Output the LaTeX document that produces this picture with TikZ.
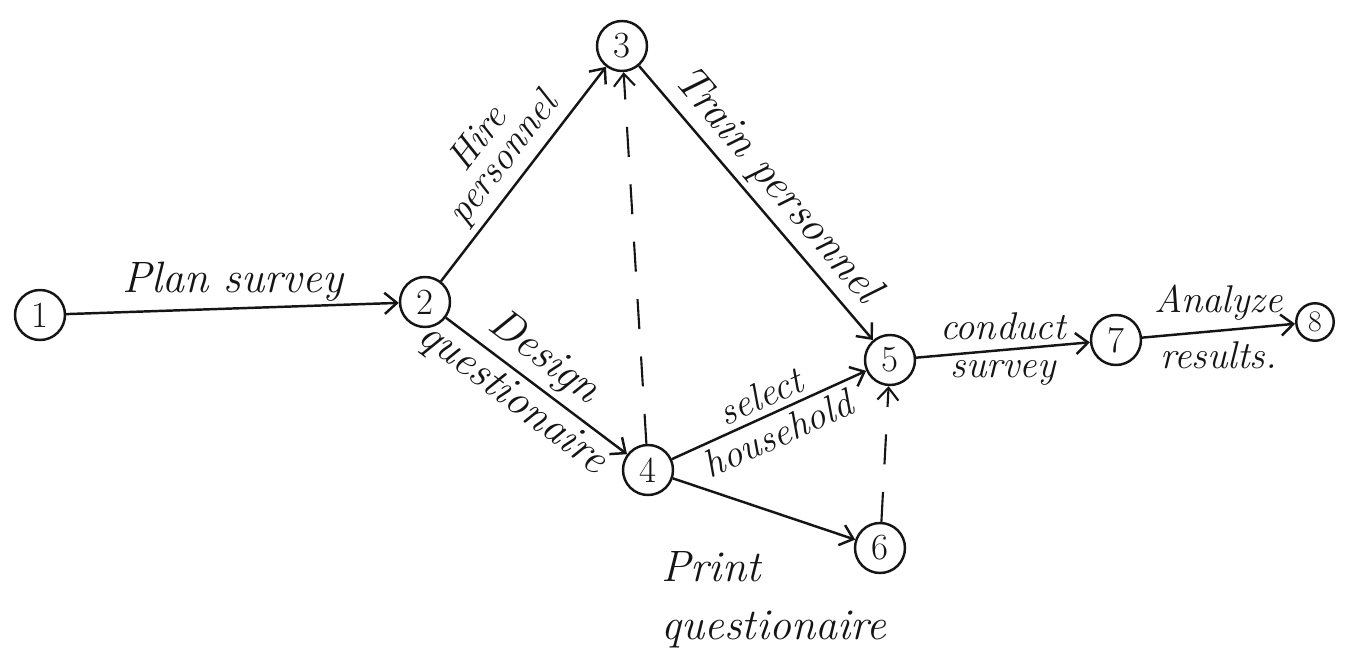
\documentclass[tikz,border=0pt]{standalone}
\usepackage{xcolor}
\usetikzlibrary{arrows.meta}
\definecolor{ink}{HTML}{151515}

\begin{document}
\begin{tikzpicture}[>={Straight Barb[length=7pt,width=12pt]},
        every node/.style={font=\fontsize{25}{29}\selectfont\itshape, text=ink},
        evt/.style={draw=ink, circle, line width=1.4pt, minimum size=1cm,
            inner sep=0pt, font=\fontsize{21}{23}\selectfont},
        act/.style={->, line width=1.4pt, draw=ink},
        dummy/.style={->, line width=1.2pt, draw=ink, dash pattern=on 0.6cm off 0.55cm},
        smalllbl/.style={font=\fontsize{22}{24}\selectfont\itshape}]
      \useasboundingbox (0,0) rectangle (27.04,12.96);
      % events
      \node[evt] (n1) at (0.8,6.66) {1};
      \node[evt] (n2) at (8.5,6.92) {2};
      \node[evt] (n3) at (12.44,12.04) {3};
      \node[evt] (n4) at (12.96,3.56) {4};
      \node[evt] (n5) at (17.8,5.76) {5};
      \node[evt] (n6) at (17.6,2.0) {6};
      \node[evt] (n7) at (22.32,6.16) {7};
      \node[evt, minimum size=0.75cm, font=\fontsize{17}{19}\selectfont] (n8) at (26.3,6.52) {8};
      % activities
      \draw[act] (n1) -- node[midway, above] {Plan survey} (n2);
      \draw[act] (n2) -- node[pos=0.5, sloped, above, smalllbl, align=center] {Hire\\[-6pt]personnel} (n3);
      \draw[act] (n3) -- node[pos=0.5, sloped, above] {Train personnel} (n5);
      \draw[act] (n2) -- node[pos=0.45, sloped, above] {Design}
                         node[pos=0.45, sloped, below] {questionaire} (n4);
      \draw[act] (n4) -- node[pos=0.5, sloped, above, smalllbl] {select}
                         node[pos=0.5, sloped, below, smalllbl] {household} (n5);
      \draw[act] (n4) -- node[midway, below=0.7cm, xshift=0.2cm, align=left] {Print\\[4pt]questionaire} (n6);
      \draw[act] (n5) -- node[midway, above=2pt, smalllbl] {conduct}
                         node[midway, below=2pt, smalllbl] {survey} (n7);
      \draw[act] (n7) -- node[midway, above=2pt, smalllbl] {Analyze}
                         node[midway, below=2pt, smalllbl] {results.} (n8);
      % dummies
      \draw[dummy] (n4) -- (n3);
      \draw[dummy] (n6) -- (n5);
    \end{tikzpicture}
\end{document}
